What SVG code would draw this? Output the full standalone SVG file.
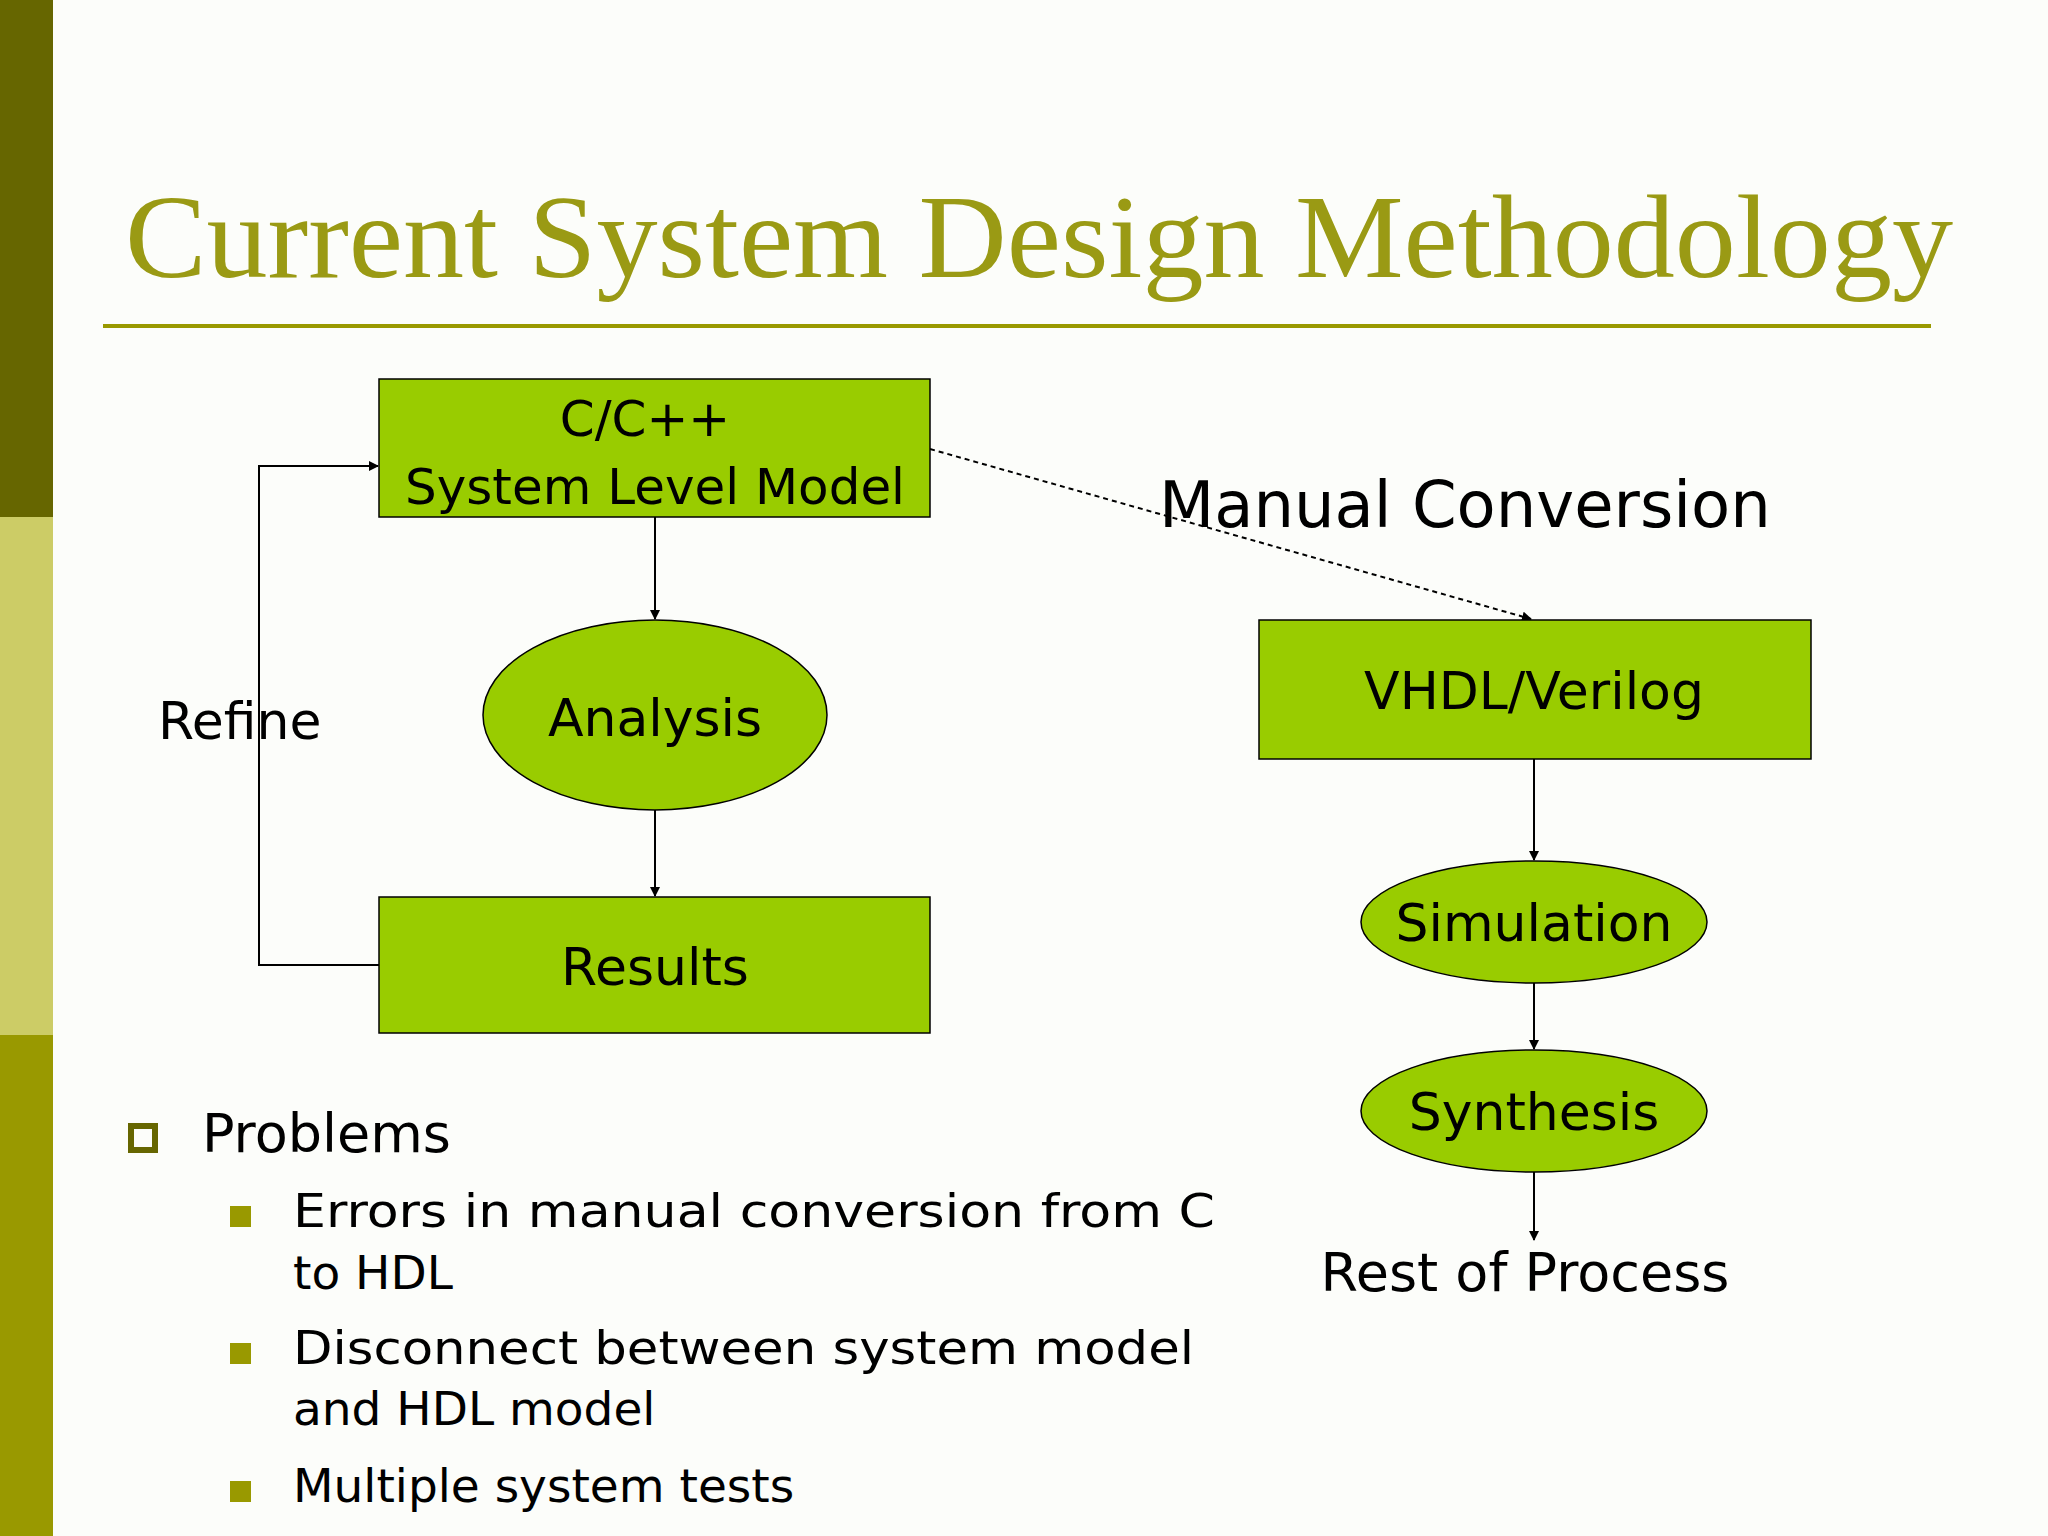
<svg xmlns="http://www.w3.org/2000/svg" width="2048" height="1536" viewBox="0 0 2048 1536">
<defs>
<marker id="ah" markerWidth="10" markerHeight="10" refX="9" refY="5" orient="auto" markerUnits="userSpaceOnUse"><path d="M0,0 L10,5 L0,10 z" fill="#000"/></marker>
<style>
.box{fill:#99cc00;stroke:#000;stroke-width:1.5}
.t{font-family:"DejaVu Sans",Verdana,sans-serif;fill:#000}
.c{stroke:#000;stroke-width:2;fill:none}
</style>
</defs>
<rect width="2048" height="1536" fill="#fcfdfa"/>
<rect x="0" y="0" width="53" height="517" fill="#666600"/>
<rect x="0" y="517" width="53" height="518" fill="#cccc66"/>
<rect x="0" y="1035" width="53" height="501" fill="#999900"/>
<text x="125" y="277" font-family="'Liberation Serif',serif" font-size="118" fill="#9a9a14" textLength="1828" lengthAdjust="spacingAndGlyphs">Current System Design Methodology</text>
<line x1="103" y1="326" x2="1931" y2="326" stroke="#999900" stroke-width="4"/>
<g id="connectors">
<line class="c" x1="655" y1="517" x2="655" y2="619" marker-end="url(#ah)"/>
<line class="c" x1="655" y1="810" x2="655" y2="896" marker-end="url(#ah)"/>
<polyline class="c" points="379,965 259,965 259,466 378,466" marker-end="url(#ah)"/>
<line class="c" x1="930" y1="449" x2="1531" y2="619" stroke-width="4" stroke-dasharray="5,4" marker-end="url(#ah)"/>
<line class="c" x1="1534" y1="759" x2="1534" y2="860" marker-end="url(#ah)"/>
<line class="c" x1="1534" y1="983" x2="1534" y2="1049" marker-end="url(#ah)"/>
<line class="c" x1="1534" y1="1172" x2="1534" y2="1240" marker-end="url(#ah)"/>
</g>
<g id="ccpp"><rect class="box" x="379" y="379" width="551" height="138"/>
<text class="t" x="645" y="436" font-size="50" text-anchor="middle">C/C++</text>
<text class="t" x="655" y="504" font-size="50" text-anchor="middle" textLength="500" lengthAdjust="spacingAndGlyphs">System Level Model</text></g>
<g id="analysis"><ellipse class="box" cx="655" cy="715" rx="172" ry="95"/>
<text class="t" x="655" y="736" font-size="52" text-anchor="middle">Analysis</text></g>
<g id="results"><rect class="box" x="379" y="897" width="551" height="136"/>
<text class="t" x="655" y="985" font-size="52" text-anchor="middle">Results</text></g>
<text class="t" x="158" y="739" font-size="52">Refine</text>
<text class="t" x="1159" y="527" font-size="64">Manual Conversion</text>
<g id="vhdl"><rect class="box" x="1259" y="620" width="552" height="139"/>
<text class="t" x="1534" y="709" font-size="52" text-anchor="middle">VHDL/Verilog</text></g>
<g id="simulation"><ellipse class="box" cx="1534" cy="922" rx="173" ry="61"/>
<text class="t" x="1534" y="941" font-size="52" text-anchor="middle">Simulation</text></g>
<g id="synthesis"><ellipse class="box" cx="1534" cy="1111" rx="173" ry="61"/>
<text class="t" x="1534" y="1130" font-size="52" text-anchor="middle">Synthesis</text></g>
<text class="t" x="1525" y="1291" font-size="54" text-anchor="middle">Rest of Process</text>
<rect x="131" y="1126" width="24" height="24" fill="none" stroke="#666600" stroke-width="6"/>
<text class="t" x="202" y="1152" font-size="54">Problems</text>
<g fill="#999900"><rect x="230" y="1206" width="21" height="21"/><rect x="230" y="1343" width="21" height="21"/><rect x="230" y="1481" width="21" height="21"/></g>
<g class="t" font-size="47">
<text x="293" y="1227" textLength="922" lengthAdjust="spacingAndGlyphs">Errors in manual conversion from C</text>
<text x="293" y="1289">to HDL</text>
<text x="293" y="1364" textLength="901" lengthAdjust="spacingAndGlyphs">Disconnect between system model</text>
<text x="293" y="1425">and HDL model</text>
<text x="293" y="1502">Multiple system tests</text>
</g>
</svg>
